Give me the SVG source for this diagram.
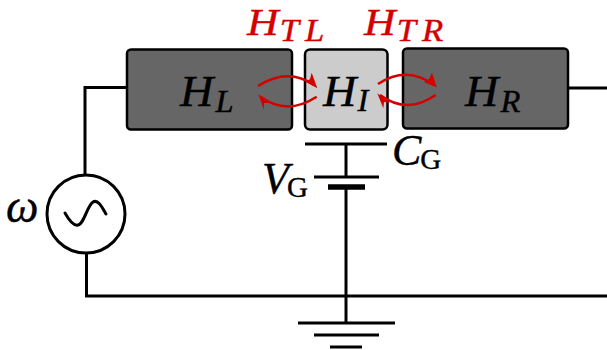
<svg xmlns="http://www.w3.org/2000/svg" width="607" height="350" viewBox="0 0 607 350">
<style>
.w{fill:none;stroke:#000;stroke-width:3}
.box{stroke:#000;stroke-width:2.5}
.dark{fill:#666}
.light{fill:#ccc}
.arc{fill:none;stroke:#d40000;stroke-width:2.5}
.head{fill:#d40000}
text{font-family:"Liberation Serif","Times New Roman",serif}
.m{font-style:italic;font-size:44px;fill:#000;stroke:#000;stroke-width:.4}
.s{font-style:italic;font-size:31px}
.rs{font-style:italic;font-size:31px;letter-spacing:5.500px}
.r{font-style:normal;font-size:29px}
.red{font-size:39px;fill:#d40000;stroke:#d40000}
</style>
<g id="connectors">
<path class="w" d="M127 87.500H85V175"/>
<path class="w" d="M86.500 253V296H607"/>
<path class="w" d="M568 88H607"/>
<path class="w" d="M346 144V177"/>
<path class="w" d="M346 187V323"/>
</g>
<g id="node-HL">
<rect class="box dark" x="127" y="49.500" width="165" height="80" rx="4"/>
<text class="m" transform="translate(180 106) scale(1.05 1)">H<tspan class="s" dx="2" dy="6">L</tspan></text>
</g>
<g id="node-HI">
<rect class="box light" x="305" y="49.500" width="82.500" height="80" rx="5"/>
<text class="m" transform="translate(323 106) scale(1.05 1)">H<tspan class="s" dx="1" dy="5">I</tspan></text>
</g>
<g id="node-HR">
<rect class="box dark" x="403" y="48.500" width="165" height="80" rx="4"/>
<text class="m" transform="translate(465 106) scale(1.05 1)">H<tspan class="s" dx="2" dy="6">R</tspan></text>
</g>
<g id="couplings">
<path class="arc" d="M258 86Q288 67 314 85"/>
<path class="head" d="M311.700 72.700L317.300 88.300L308.300 83.300L306 82L310 79Z"/>
<path class="arc" d="M316.700 96.700Q287 116 261 97"/>
<path class="head" d="M264 110L258.300 94L268 101.700L270 103L264 103Z"/>
<path class="arc" d="M378 84Q407 65 434 85"/>
<path class="head" d="M432 72.700L436.700 87.300L426.700 83.300L424 82L429 79Z"/>
<path class="arc" d="M435.700 95Q407 115 380 95"/>
<path class="head" d="M383.300 108.300L377.300 93.300L388.300 101.700L390 103L384 102Z"/>
<text class="m red" transform="translate(247 35) scale(1.12 1)">H<tspan class="rs" dx="1" dy="6">TL</tspan></text>
<text class="m red" transform="translate(364 35) scale(1.12 1)">H<tspan class="rs" dx="1" dy="6">TR</tspan></text>
</g>
<g id="node-source">
<circle class="w" cx="86" cy="214" r="39" fill="#fff"/>
<path class="w" stroke-linecap="round" d="M65 213C70 222 74 226 78 225C84 224 87 206 93 202C98 199 102 207 106 214"/>
<text class="m" x="6" y="222" style="font-size:46px">ω</text>
</g>
<g id="node-capacitor">
<path class="w" d="M305 144H387"/>
<text class="m" x="392" y="165">C<tspan class="r" dx="-1" dy="4">G</tspan></text>
</g>
<g id="node-battery">
<path class="w" d="M314 177H379"/>
<path class="w" style="stroke-width:5.500" d="M328 187H365"/>
<text class="m" x="262" y="193">V<tspan class="r" dx="-2" dy="4">G</tspan></text>
</g>
<g id="node-ground">
<path class="w" d="M298 323H395M314 335H379M330 347H362"/>
</g>
</svg>
